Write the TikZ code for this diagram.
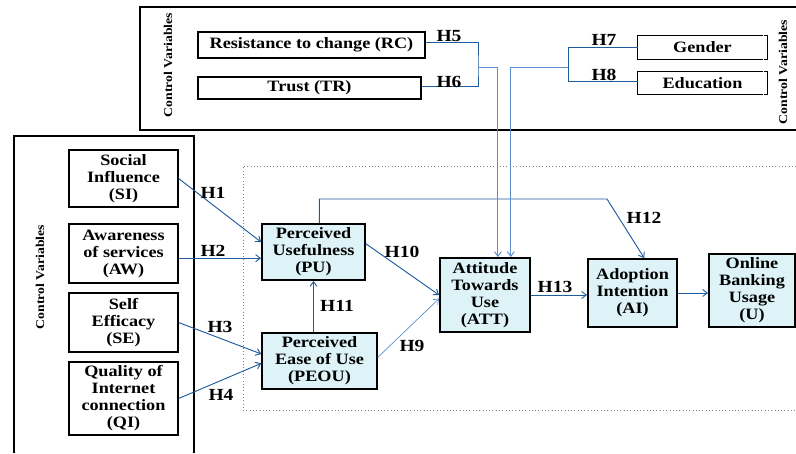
\documentclass[tikz,border=0pt]{standalone}
\usepackage{fontspec}
\setmainfont{Liberation Serif}[FakeStretch=1.15]
\definecolor{LinkBlue}{HTML}{1F5C9E}
\definecolor{LinkLight}{HTML}{5B8FCB}
\definecolor{CoreFill}{HTML}{DDF3F8}
\usetikzlibrary{arrows.meta, calc}

\begin{document}
\begin{tikzpicture}[x=0.03cm, y=-0.03cm,
  box/.style={draw, line width=1pt, minimum width=3.27cm, align=center,
              font=\bfseries\fontsize{13.5}{14.5}\selectfont, inner sep=1pt},
  core/.style={box, fill=CoreFill, line width=1.6pt},
  ctrl/.style={draw, line width=1pt, font=\bfseries\fontsize{13.5}{14.5}\selectfont, inner sep=1pt},
  openbox/.style={font=\bfseries\fontsize{13.5}{14.5}\selectfont, inner sep=1pt},
  frame/.style={line width=1.2pt},
  side/.style={rotate=90, font=\bfseries\fontsize{10.2}{12}\selectfont},
  arr/.style={-{Straight Barb[length=4pt, width=6pt]}, LinkBlue, line width=0.8pt},
  lnk/.style={LinkBlue, line width=0.8pt},
  hyp/.style={font=\bfseries\fontsize{14.5}{15}\selectfont, inner sep=0pt},
]
  \useasboundingbox (0,0) rectangle (796,453);

  % frames
  \draw[frame] (796,7) -- (140,7) -- (140,130) -- (796,130);
  \draw[frame] (14,453) -- (14,136) -- (194,136) -- (194,453);
  \draw[gray, dotted, line width=0.8pt] (796,166) -- (243,166) -- (243,410) -- (796,410);

  \node[side] (cvtop)   at (168,65)  {Control Variables};
  \node[side] (cvleft)  at (40,277)  {Control Variables};
  \node[side] (cvright) at (783,72)  {Control Variables};

  % control variables
  \node[ctrl, minimum width=6.81cm, minimum height=0.78cm] (rc) at (311.5,45) {Resistance to change (RC)};
  \node[ctrl, minimum width=6.69cm, minimum height=0.66cm] (tr) at (309.5,88) {Trust (TR)};
  \node[openbox, minimum width=3.87cm, minimum height=0.69cm] (gdr) at (702.5,47.5) {Gender};
  \node[openbox, minimum width=3.87cm, minimum height=0.66cm] (edu) at (702.5,83) {Education};
  \foreach \n in {gdr, edu} {
    \draw[line width=1pt] ([xshift=-4pt]\n.north east) -- (\n.north west) -- (\n.south west) -- ([xshift=-4pt]\n.south east);
    \draw[line width=1pt] ([xshift=-2.5pt]\n.north east) -- (\n.north east) -- (\n.south east) -- ([xshift=-2.5pt]\n.south east);
  }

  % external factors
  \node[box, minimum height=1.71cm] (si) at (123.5,178.5) {Social\\Influence\\(SI)};
  \node[box, minimum height=1.77cm] (aw) at (123.5,253.5) {Awareness\\of services\\(AW)};
  \node[box, minimum height=1.77cm] (se) at (123.5,322.5) {Self\\Efficacy\\(SE)};
  \node[box, minimum height=2.19cm] (qi) at (123.5,398.5) {Quality of\\Internet\\connection\\(QI)};

  % core model
  \node[core, minimum width=3.09cm, minimum height=1.68cm] (pu)   at (313.5,252) {Perceived\\Usefulness\\(PU)};
  \node[core, minimum width=3.45cm, minimum height=1.68cm, line width=1.2pt] (peou) at (319.5,361) {Perceived\\Ease of Use\\(PEOU)};
  \node[core, minimum width=2.7cm,  minimum height=2.22cm] (att)  at (485,295)   {Attitude\\Towards\\Use\\(ATT)};
  \node[core, minimum width=2.67cm, minimum height=2.04cm] (ai)   at (632.5,293) {Adoption\\Intention\\(AI)};
  \node[core, minimum width=2.58cm, minimum height=2.19cm] (u)    at (752,290.5) {Online\\Banking\\Usage\\(U)};

  \coordinate (jrt)  at (478,67);
  \coordinate (jge)  at (568,67);
  \coordinate (pu12) at (607,199);

  % links
  \draw[arr] (si.east) -- ([yshift=8.5pt]pu.west);
  \draw[arr] ([yshift=-4pt]aw.east) -- ([yshift=-4pt]aw.east -| pu.west);
  \draw[arr] (se.east) -- ([yshift=6pt]peou.west);
  \draw[arr] (qi.east) -- ([yshift=-2pt]peou.west);
  \draw[arr] (pu.south |- peou.north) -- (pu.south);
  \draw[arr] ([yshift=7pt]pu.east) -- (att.west);
  \draw[arr, LinkLight, line width=0.6pt] ([yshift=3pt]peou.east) -- ([yshift=-3pt]att.west);
  \draw[arr] ([xshift=5pt]pu.north) |- (pu12) -- ([xshift=10pt]ai.north);
  \draw[arr] (att.east) -- (att.east -| ai.west);
  \draw[arr] (ai.east) -- (ai.east -| u.west);

  \draw[lnk] ([yshift=2.5pt]rc.east) -| (jrt) |- ([yshift=1.5pt]tr.east);
  \draw[arr, LinkLight] (jrt) -| ([xshift=11pt]att.north);
  \draw[lnk] (gdr.west) -| (jge) |- ([yshift=1.5pt]edu.west);
  \draw[arr, LinkLight] (jge) -| ([xshift=22pt]att.north);

  % hypotheses
  \node[hyp] (h1)  at (213,193) {H1};
  \node[hyp] (h2)  at (213,251) {H2};
  \node[hyp] (h3)  at (220,327) {H3};
  \node[hyp] (h4)  at (221,395) {H4};
  \node[hyp] (h5)  at (449,36)  {H5};
  \node[hyp] (h6)  at (449,82)  {H6};
  \node[hyp] (h7)  at (604,40)  {H7};
  \node[hyp] (h8)  at (604,75)  {H8};
  \node[hyp] (h9)  at (412,346) {H9};
  \node[hyp] (h10) at (402,252) {H10};
  \node[hyp] (h11) at (337,306) {H11};
  \node[hyp] (h12) at (644,218) {H12};
  \node[hyp] (h13) at (555,287) {H13};
\end{tikzpicture}
\end{document}
